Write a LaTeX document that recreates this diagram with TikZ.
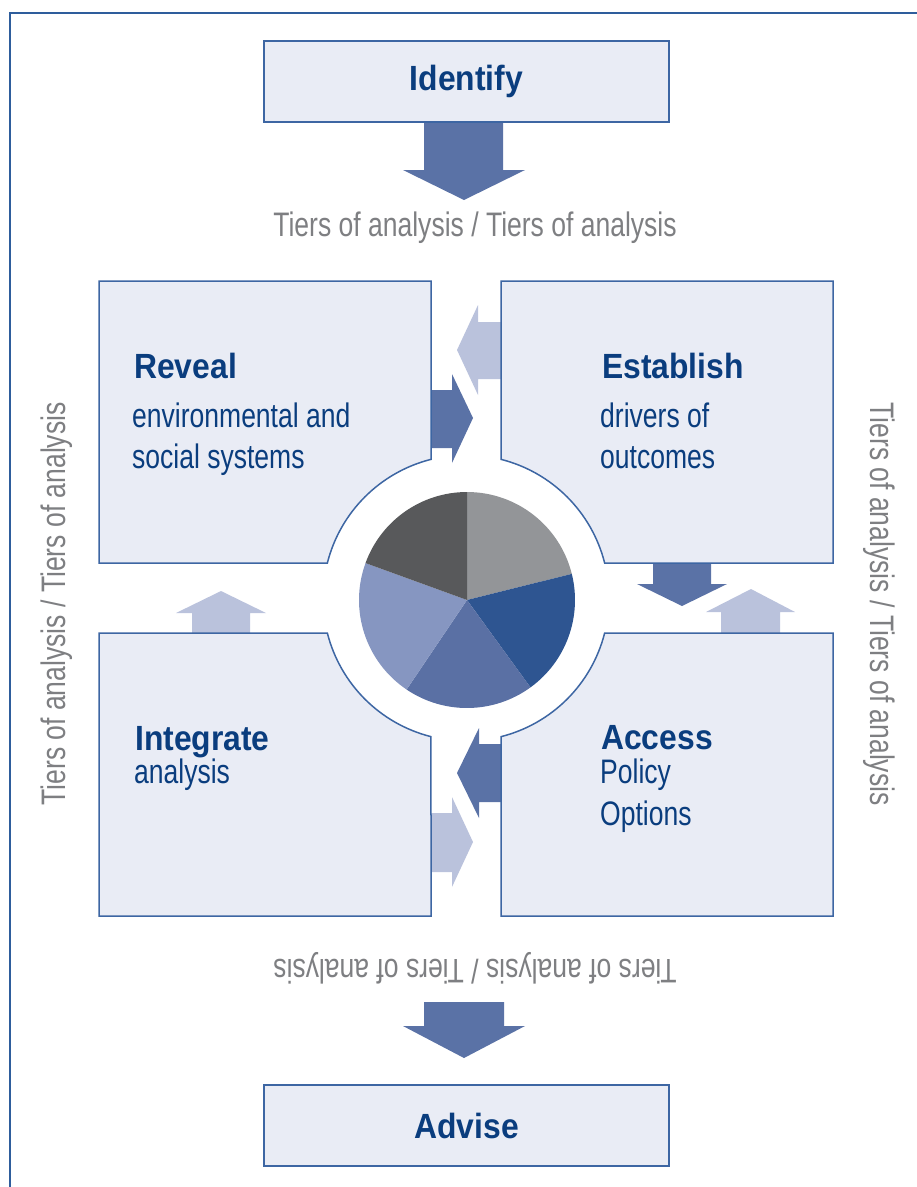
\documentclass[tikz,border=0pt]{standalone}
\usepackage{fontspec}
\setmainfont{Liberation Sans}
\newfontfamily\titlefont[FakeStretch=0.91]{Liberation Sans}
\newfontfamily\bodyfont[FakeStretch=0.78]{Liberation Sans}

\definecolor{boxfill}{HTML}{E9ECF5}
\definecolor{boxline}{HTML}{3D66A3}
\definecolor{framecol}{HTML}{2E5D9C}
\definecolor{titleblue}{HTML}{0A3D7E}
\definecolor{tiersgrey}{HTML}{7E7F82}
\definecolor{arrowdark}{HTML}{5A72A6}
\definecolor{arrowlight}{HTML}{BAC2DC}
\definecolor{pieA}{HTML}{939598}
\definecolor{pieB}{HTML}{2E5591}
\definecolor{pieC}{HTML}{5A70A4}
\definecolor{pieD}{HTML}{8696C1}
\definecolor{pieE}{HTML}{58595B}

\tikzset{
  box/.style={fill=boxfill, draw=boxline, line width=1.5pt},
  endbox/.style={box, minimum width=405pt, minimum height=81pt, inner sep=0pt,
    font=\titlefont\bfseries\fontsize{35}{42}\selectfont, text=titleblue},
  titletxt/.style={font=\titlefont\bfseries\fontsize{35}{42}\selectfont, text=titleblue, inner sep=0pt},
  bodytxt/.style={font=\bodyfont\fontsize{34}{42}\selectfont, text=titleblue, inner sep=0pt},
  tierstxt/.style={font=\bodyfont\fontsize{34}{40}\selectfont, text=tiersgrey, inner sep=0pt},
  darkarrow/.style={fill=arrowdark},
  lightarrow/.style={fill=arrowlight},
}

\begin{document}
\begin{tikzpicture}[x=1pt, y=-1pt]
    \useasboundingbox (0,0) rectangle (917,1187);
    \draw[framecol, line width=2pt] (10,1187) -- (10,13) -- (917,13);

    % block arrows
    \fill[darkarrow] (424,122) -- (503,122) -- (503,170) -- (525,170) -- (464,200) -- (403,170) -- (424,170) -- cycle;
    \fill[darkarrow] (424,1002) -- (504,1002) -- (504,1026) -- (525,1026) -- (464,1058) -- (403,1026) -- (424,1026) -- cycle;

    \fill[darkarrow] (431,390) -- (452,390) -- (452,374) -- (473,418) -- (452,463) -- (452,448) -- (431,448) -- cycle;
    \fill[lightarrow] (501,322) -- (478,322) -- (478,305) -- (457,350) -- (478,395) -- (478,379) -- (501,379) -- cycle;
    \fill[darkarrow] (501,744) -- (479,744) -- (479,728) -- (457,773) -- (479,818) -- (479,802) -- (501,802) -- cycle;
    \fill[lightarrow] (431,813) -- (452,813) -- (452,797) -- (473,842) -- (452,887) -- (452,872) -- (431,872) -- cycle;

    \fill[darkarrow] (653,563) -- (711,563) -- (711,584) -- (727,584) -- (682,606) -- (637,584) -- (653,584) -- cycle;
    \fill[lightarrow] (721,633) -- (780,633) -- (780,612) -- (795,612) -- (751,589) -- (706,612) -- (721,612) -- cycle;
    \fill[lightarrow] (192,633) -- (250,633) -- (250,613) -- (266,613) -- (221,591) -- (176,613) -- (192,613) -- cycle;

    % boxes
    \node[endbox] (identify) at (466.5,81.5) {Identify};
    \node[endbox] (advise) at (466.5,1125.5) {Advise};

    \draw[box] (99,281) -- (431,281) -- (431,459.35) arc[start angle=-104.17, end angle=-165.83, radius=143] -- (99,563) -- cycle;
    \draw[box] (501,281) -- (833,281) -- (833,563) -- (604.65,563) arc[start angle=-14.17, end angle=-75.83, radius=143] -- cycle;
    \draw[box] (501,736.65) arc[start angle=75.83, end angle=14.17, radius=143] -- (833,633) -- (833,916) -- (501,916) -- cycle;
    \draw[box] (99,633) -- (327.35,633) arc[start angle=165.83, end angle=104.17, radius=143] -- (431,916) -- (99,916) -- cycle;

    % pie
    \coordinate (pc) at (467,600);
    \fill[pieA] (pc) -- ++(-90:108) arc[start angle=-90, end angle=-14, radius=108] -- cycle;
    \fill[pieB] (pc) -- ++(-14:108) arc[start angle=-14, end angle=54, radius=108] -- cycle;
    \fill[pieC] (pc) -- ++(54:108) arc[start angle=54, end angle=124, radius=108] -- cycle;
    \fill[pieD] (pc) -- ++(124:108) arc[start angle=124, end angle=200, radius=108] -- cycle;
    \fill[pieE] (pc) -- ++(200:108) arc[start angle=200, end angle=270, radius=108] -- cycle;

    % texts
    \node[titletxt, anchor=base west] (reveal) at (134,378) {Reveal};
    \node[bodytxt, anchor=base west] (reveal1) at (132,427) {environmental and};
    \node[bodytxt, anchor=base west] (reveal2) at (132,468) {social systems};

    \node[titletxt, anchor=base west] (establish) at (602,378) {Establish};
    \node[bodytxt, anchor=base west] (establish1) at (600,427) {drivers of};
    \node[bodytxt, anchor=base west] (establish2) at (600,468) {outcomes};

    \node[titletxt, anchor=base west] (integrate) at (135,750) {Integrate};
    \node[bodytxt, anchor=base west] (integrate1) at (134,783) {analysis};

    \node[titletxt, anchor=base west] (access) at (601,749) {Access};
    \node[bodytxt, anchor=base west] (access1) at (600,783) {Policy};
    \node[bodytxt, anchor=base west] (access2) at (600,825) {Options};

    \node[tierstxt] (tierstop) at (475,228) {Tiers of analysis / Tiers of analysis};
    \node[tierstxt, rotate=180] (tiersbottom) at (475,968) {Tiers of analysis / Tiers of analysis};
    \node[tierstxt, rotate=90] (tiersleft) at (57,604) {Tiers of analysis / Tiers of analysis};
    \node[tierstxt, rotate=-90] (tiersright) at (879,604) {Tiers of analysis / Tiers of analysis};
\end{tikzpicture}
\end{document}
